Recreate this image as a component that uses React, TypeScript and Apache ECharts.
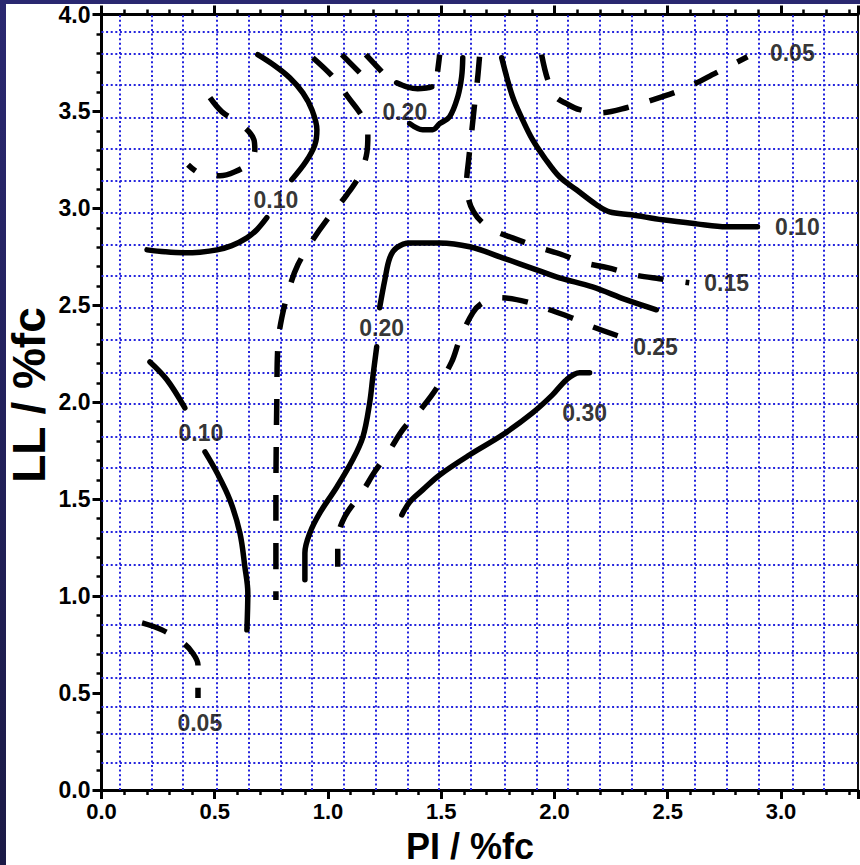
import React, { useEffect, useRef } from 'react';
import * as echarts from 'echarts';

type P = [number, number];

// graph-paper grid positions (data units)
const gridX = [0.082, 0.223, 0.364, 0.505, 0.646, 0.787, 0.929, 1.07, 1.211, 1.352, 1.493, 1.634, 1.776, 1.917, 2.058, 2.199, 2.34, 2.481, 2.622, 2.764, 2.905, 3.046, 3.187];
const gridY = [3.911, 3.803, 3.643, 3.473, 3.313, 3.143, 2.982, 2.812, 2.647, 2.487, 2.317, 2.152, 1.992, 1.821, 1.661, 1.491, 1.326, 1.161, 0.996, 0.846, 0.707, 0.583, 0.433, 0.294, 0.144];

// axis ticks
const xTicks = [0, 0.5, 1.0, 1.5, 2.0, 2.5, 3.0];
const yTicks = [0, 0.5, 1.0, 1.5, 2.0, 2.5, 3.0, 3.5, 4.0];

// 0.10 (solid) upper-left
const c10TopA: P[] = [[0.69, 3.793], [0.765, 3.736], [0.831, 3.674], [0.889, 3.596], [0.929, 3.509], [0.951, 3.406], [0.942, 3.328], [0.902, 3.24], [0.84, 3.148]];
const c10TopB: P[] = [[0.73, 2.952], [0.686, 2.89], [0.642, 2.848], [0.575, 2.808], [0.51, 2.786], [0.435, 2.774], [0.36, 2.771], [0.28, 2.776], [0.201, 2.786]];
// 0.05 (dashed) small arc upper-left
const c05Arc: P[] = [[0.479, 3.571], [0.532, 3.498], [0.624, 3.426], [0.673, 3.354], [0.677, 3.302], [0.646, 3.23], [0.589, 3.189], [0.523, 3.168], [0.448, 3.173], [0.382, 3.225]];
// 0.15 (dashed) long left
const c15Left: P[] = [[0.933, 3.777], [1.021, 3.679], [1.087, 3.576], [1.154, 3.467], [1.176, 3.38], [1.172, 3.29], [1.14, 3.173], [1.083, 3.07], [0.995, 2.941], [0.933, 2.838], [0.867, 2.709], [0.831, 2.595], [0.796, 2.436], [0.779, 2.296], [0.774, 2.012], [0.77, 1.496], [0.77, 0.98]];
// short dashed pieces near top
const c15TopA: P[] = [[1.061, 3.793], [1.14, 3.7]];
const c15TopB: P[] = [[1.167, 3.793], [1.237, 3.705]];
const c15TopC: P[] = [[1.493, 3.793], [1.484, 3.705]];
// 0.20 (solid) top
const c20TopA: P[] = [[1.303, 3.648], [1.348, 3.627], [1.396, 3.617], [1.44, 3.622], [1.458, 3.627]];
const c20TopB: P[] = [[1.361, 3.437], [1.418, 3.406], [1.462, 3.406], [1.493, 3.437], [1.537, 3.473], [1.573, 3.576], [1.59, 3.679], [1.595, 3.777]];
// 0.15 (dashed) right
const c15Right: P[] = [[1.669, 3.782], [1.66, 3.664], [1.647, 3.535], [1.634, 3.39], [1.621, 3.251], [1.612, 3.132], [1.621, 3.044], [1.643, 2.982], [1.678, 2.931], [1.736, 2.884], [1.815, 2.848], [1.921, 2.802], [2.022, 2.766], [2.133, 2.719], [2.234, 2.694], [2.353, 2.657], [2.463, 2.637], [2.595, 2.616]];
// 0.10 (solid) right
const c10Right: P[] = [[1.767, 3.777], [1.815, 3.576], [1.859, 3.457], [1.903, 3.354], [1.956, 3.261], [2.022, 3.163], [2.097, 3.096], [2.185, 3.019], [2.243, 2.982], [2.34, 2.967], [2.477, 2.941], [2.627, 2.92], [2.759, 2.905], [2.896, 2.905]];
// 0.05 (dashed) right
const c05Right: P[] = [[1.943, 3.793], [1.97, 3.664], [2.005, 3.576], [2.053, 3.54], [2.111, 3.509], [2.199, 3.493], [2.318, 3.519], [2.477, 3.576], [2.583, 3.622], [2.715, 3.7], [2.852, 3.782]];
// 0.20 (solid) middle
const c20MidA: P[] = [[2.45, 2.477], [2.318, 2.528], [2.168, 2.595], [2.022, 2.642], [1.921, 2.683], [1.771, 2.745], [1.626, 2.802], [1.493, 2.822], [1.361, 2.822], [1.303, 2.797], [1.273, 2.745], [1.251, 2.632], [1.228, 2.487]];
const c20MidB: P[] = [[1.215, 2.286], [1.198, 2.131], [1.184, 1.997], [1.154, 1.821], [1.109, 1.703], [1.039, 1.563], [0.964, 1.429], [0.92, 1.326], [0.898, 1.223], [0.898, 1.084]];
// 0.25 (dashed)
const c25: P[] = [[2.279, 2.343], [2.168, 2.389], [2.075, 2.436], [1.978, 2.477], [1.877, 2.518], [1.758, 2.539], [1.683, 2.513], [1.639, 2.461], [1.581, 2.322], [1.546, 2.208], [1.48, 2.074], [1.418, 1.976], [1.33, 1.858], [1.273, 1.754], [1.206, 1.641], [1.149, 1.533], [1.074, 1.409], [1.043, 1.29], [1.043, 1.151]];
// 0.30 (solid)
const c30: P[] = [[1.326, 1.419], [1.361, 1.486], [1.418, 1.548], [1.493, 1.625], [1.626, 1.729], [1.771, 1.832], [1.903, 1.945], [1.991, 2.038], [2.053, 2.116], [2.111, 2.152], [2.155, 2.152]];
// 0.10 (solid) lower-left
const c10LowA: P[] = [[0.214, 2.208], [0.289, 2.116], [0.368, 1.971]];
const c10LowB: P[] = [[0.457, 1.744], [0.51, 1.636], [0.567, 1.496], [0.611, 1.326], [0.633, 1.151], [0.646, 1.017], [0.642, 0.826]];
// 0.05 (dashed) lower-left
const c05Low: P[] = [[0.179, 0.862], [0.267, 0.826], [0.355, 0.764], [0.399, 0.712], [0.426, 0.645], [0.426, 0.475]];

const labelText = ['0.10', '0.20', '0.05', '0.10', '0.15', '0.20', '0.25', '0.10', '0.30', '0.05'];
const labelX = [0.77, 1.339, 3.05, 3.072, 2.76, 1.237, 2.446, 0.439, 2.133, 0.434];
const labelY = [3.044, 3.498, 3.803, 2.905, 2.616, 2.384, 2.286, 1.842, 1.945, 0.346];

const solidCurves = [c10TopA, c10TopB, c20TopA, c20TopB, c10Right, c20MidA, c20MidB, c30, c10LowA, c10LowB];
const dashedCurves = [c05Arc, c15Left, c15TopA, c15TopB, c15TopC, c15Right, c05Right, c25, c05Low];

const FONT = '"Liberation Sans", Arial, Helvetica, sans-serif';

function buildOption() {
  const isTick = (v: number, arr: number[]) => arr.some((t) => Math.abs(t - v) < 1e-6);
  const axisCommon = {
    type: 'value' as const,
    splitLine: { show: false },
    minorSplitLine: { show: false },
    axisLine: { show: true, onZero: false, lineStyle: { color: '#000', width: 3 } },
    axisTick: { show: true, inside: false, length: 9, lineStyle: { color: '#000', width: 3 } },
    minorTick: { show: true, splitNumber: 5, length: 5, lineStyle: { color: '#000', width: 2.5 } },
  };
  const series: any[] = [];
  series.push({
    type: 'line',
    data: [],
    z: 1,
    silent: true,
    markLine: {
      silent: true,
      symbol: ['none', 'none'],
      label: { show: false },
      emphasis: { disabled: true },
      lineStyle: { color: '#2424dd', width: 2, type: [2, 2.6] },
      data: [...gridX.map((v) => ({ xAxis: v })), ...gridY.map((v) => ({ yAxis: v }))],
    },
  });
  solidCurves.forEach((d) =>
    series.push({
      type: 'line',
      data: d,
      z: 5,
      silent: true,
      showSymbol: false,
      smooth: 0.35,
      lineStyle: { color: '#000', width: 5.5, cap: 'round', join: 'round' },
    })
  );
  dashedCurves.forEach((d) =>
    series.push({
      type: 'line',
      data: d,
      z: 5,
      silent: true,
      showSymbol: false,
      smooth: 0.35,
      lineStyle: { color: '#000', width: 5.5, type: [26, 22], cap: 'butt', join: 'round' },
    })
  );
  series.push({
    type: 'scatter',
    z: 6,
    silent: true,
    symbolSize: 0,
    data: labelText.map((t, i) => ({ name: t, value: [labelX[i], labelY[i]] })),
    label: {
      show: true,
      position: 'inside',
      formatter: '{b}',
      color: '#000',
      textBorderWidth: 0,
      textBorderColor: 'transparent',
      fontSize: 23,
      fontWeight: 'bold',
      fontFamily: FONT,
    },
  });

  return {
    animation: false,
    backgroundColor: '#ffffff',
    grid: { left: 101.5, right: 2, top: 14.5, bottom: 75, containLabel: false },
    xAxis: [
      {
        ...axisCommon,
        position: 'bottom',
        min: 0,
        max: 3.34,
        interval: 0.5,
        axisLabel: {
          show: true,
          margin: 10,
          color: '#000',
          fontSize: 22,
          lineHeight: 22,
          fontWeight: 'bold',
          fontFamily: FONT,
          showMaxLabel: false,
          formatter: (v: number) => (isTick(v, xTicks) ? v.toFixed(1) : ''),
        },
      },
      {
        ...axisCommon,
        position: 'top',
        min: 0,
        max: 3.34,
        interval: 0.5,
        axisLabel: { show: false },
      },
    ],
    yAxis: [
      {
        ...axisCommon,
        position: 'left',
        min: 0,
        max: 4,
        interval: 0.5,
        axisLabel: {
          show: true,
          margin: 11,
          color: '#000',
          fontSize: 23,
          fontWeight: 'bold',
          fontFamily: FONT,
          formatter: (v: number) => (isTick(v, yTicks) ? v.toFixed(1) : ''),
        },
      },
      {
        type: 'value',
        position: 'right',
        min: 0,
        max: 4,
        splitLine: { show: false },
        axisLine: { show: true, onZero: false, lineStyle: { color: '#111', width: 2 } },
        axisTick: { show: false },
        axisLabel: { show: false },
      },
    ],
    graphic: [
      {
        type: 'rect',
        shape: { x: 0, y: 0, width: 6, height: 865 },
        style: {
          fill: new echarts.graphic.LinearGradient(0, 0, 0, 1, [
            { offset: 0, color: '#2a2870' },
            { offset: 1, color: '#1b1a46' },
          ]),
        },
        silent: true,
      },
      {
        type: 'rect',
        shape: { x: 0, y: 0, width: 860, height: 4 },
        style: { fill: '#2a2870' },
        silent: true,
      },
      {
        type: 'text',
        x: 470,
        y: 846,
        style: {
          text: 'PI / %fc',
          font: 'bold 36px ' + FONT,
          lineHeight: 34,
          fill: '#000',
          textAlign: 'center',
          textVerticalAlign: 'middle',
          align: 'center',
          verticalAlign: 'middle',
        },
        silent: true,
      },
      {
        type: 'text',
        x: 29,
        y: 395,
        rotation: Math.PI / 2,
        style: {
          text: 'LL / %fc',
          font: 'bold 46px ' + FONT,
          fill: '#000',
          textAlign: 'center',
          textVerticalAlign: 'middle',
          align: 'center',
          verticalAlign: 'middle',
        },
        silent: true,
      },
    ],
    series,
  };
}

export default function App() {
  const ref = useRef<HTMLDivElement>(null);
  useEffect(() => {
    if (!ref.current) return;
    const chart = echarts.init(ref.current, null, { renderer: 'svg' });
    chart.setOption(buildOption() as any);
    return () => chart.dispose();
  }, []);
  return <div ref={ref} style={{ position: 'absolute', left: 0, top: 0, width: 860, height: 865 }} />;
}
